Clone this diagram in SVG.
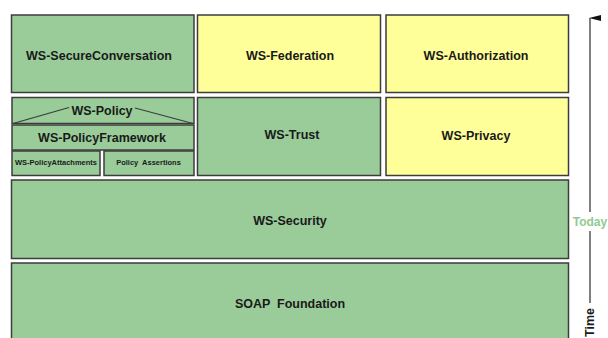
<svg xmlns="http://www.w3.org/2000/svg" width="608" height="338" viewBox="0 0 608 338">
  <style>
    .g { fill: #99cc99; stroke: #3c3c3c; stroke-width: 1.5; }
    .y { fill: #ffff99; stroke: #3c3c3c; stroke-width: 1.5; }
    .t { font-family: "Liberation Sans", Arial, sans-serif; font-weight: bold; font-size: 12.5px; fill: #1a1a1a; text-anchor: middle; }
    .s { font-family: "Liberation Sans", Arial, sans-serif; font-weight: bold; font-size: 7.5px; fill: #1a1a1a; text-anchor: middle; white-space: pre; }
    .axis { stroke: #555555; stroke-width: 1.5; fill: none; }
  </style>
  <defs>
    <marker id="head" viewBox="0 0 6 12" refX="3" refY="1" markerWidth="6" markerHeight="12" markerUnits="userSpaceOnUse" orient="auto-start-reverse">
      <path d="M3 0 L6 12 L0 12 Z" fill="#111111"/>
    </marker>
  </defs>
  <rect width="608" height="338" fill="#ffffff"/>

  <!-- top row -->
  <g id="ws-secureconversation">
    <rect class="g" x="11.5" y="15" width="182.5" height="77.5"/>
    <text class="t" x="99" y="60">WS-SecureConversation</text>
  </g>
  <g id="ws-federation">
    <rect class="y" x="197.5" y="15" width="183" height="77.5"/>
    <text class="t" x="290" y="60">WS-Federation</text>
  </g>
  <g id="ws-authorization">
    <rect class="y" x="386" y="15" width="182.5" height="77.5"/>
    <text class="t" x="476" y="60">WS-Authorization</text>
  </g>

  <!-- policy stack -->
  <g id="ws-policy">
    <rect class="g" x="12" y="97.5" width="182" height="26"/>
    <line x1="69" y1="107.5" x2="13" y2="123.5" stroke="#3c3c3c" stroke-width="1.2"/>
    <line x1="135" y1="108" x2="193" y2="123.5" stroke="#3c3c3c" stroke-width="1.2"/>
    <text class="t" x="102" y="115">WS-Policy</text>
  </g>
  <g id="ws-policyframework">
    <rect class="g" x="12" y="125" width="182" height="25"/>
    <text class="t" x="102" y="142">WS-PolicyFramework</text>
  </g>
  <g id="ws-policyattachments">
    <rect class="g" x="12" y="151" width="88" height="24.5"/>
    <text class="s" x="56" y="165">WS-PolicyAttachments</text>
  </g>
  <g id="policy-assertions">
    <rect class="g" x="104" y="151" width="90" height="24.5"/>
    <text class="s" x="148.5" y="165">Policy  Assertions</text>
  </g>

  <g id="ws-trust">
    <rect class="g" x="197.5" y="97.5" width="183" height="78"/>
    <text class="t" x="292" y="139">WS-Trust</text>
  </g>
  <g id="ws-privacy">
    <rect class="y" x="386" y="97.5" width="182.5" height="78"/>
    <text class="t" x="476" y="140">WS-Privacy</text>
  </g>

  <!-- lower layers -->
  <g id="ws-security">
    <rect class="g" x="11.5" y="180" width="557" height="78.5"/>
    <text class="t" x="290" y="225">WS-Security</text>
  </g>
  <g id="soap-foundation">
    <rect class="g" x="11.5" y="263" width="557" height="80"/>
    <text class="t" x="290" y="308" style="white-space: pre">SOAP  Foundation</text>
  </g>

  <!-- time axis -->
  <g id="connectors">
    <line class="axis" x1="590" y1="212" x2="590" y2="18" marker-end="url(#head)"/>
    <line class="axis" x1="590" y1="231" x2="590" y2="303"/>
  </g>
  <g id="today">
    <text x="590" y="226" font-family="Liberation Sans, Arial, sans-serif" font-weight="bold" font-size="12px" fill="#8fcb8f" text-anchor="middle">Today</text>
  </g>
  <g id="time">
    <text transform="translate(594 308) rotate(-90)" font-family="Liberation Sans, Arial, sans-serif" font-weight="bold" font-size="12.5px" fill="#1a1a1a" text-anchor="end">Time</text>
  </g>
</svg>
